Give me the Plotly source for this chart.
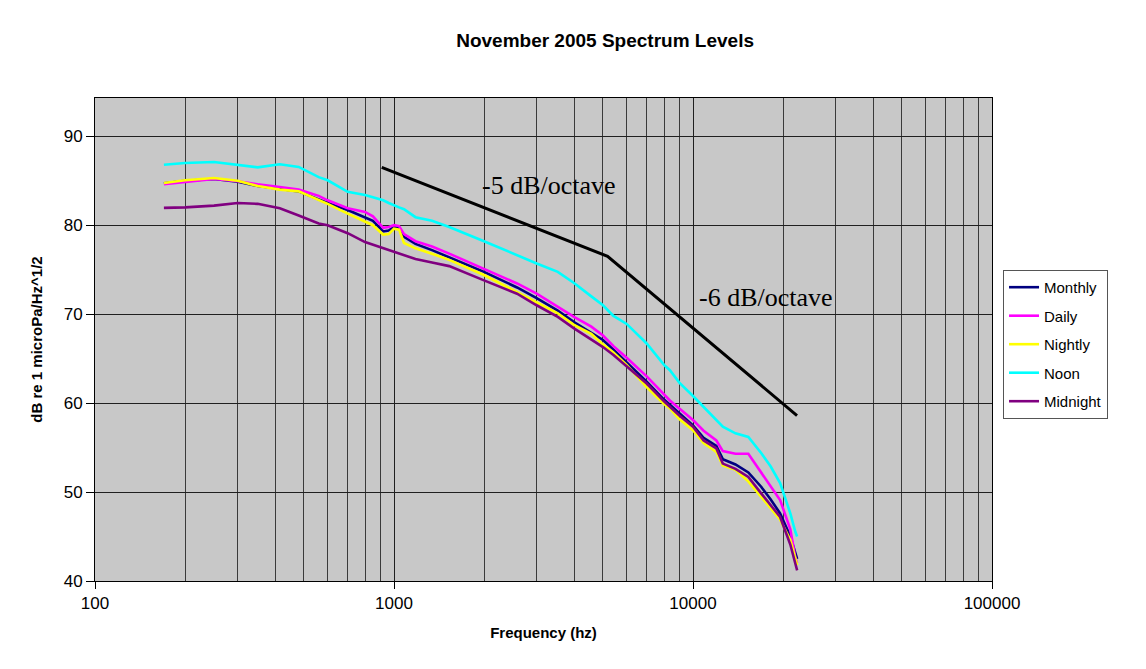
import math
import plotly.graph_objects as go

# ---------------- data ----------------
freq_hz = [170, 200, 250, 300, 350, 415, 480, 560, 600, 700, 800, 850, 920, 960,
           1000, 1040, 1080, 1180, 1340, 1530, 2000, 2580, 3000, 3530, 4000, 4570,
           5000, 5420, 6000, 7000, 8000, 8370, 9000, 10000, 10850, 11970, 12580,
           13870, 15310, 16900, 18170, 19560, 21160, 22000, 22300]

monthly = [84.7, 85.0, 85.2, 84.9, 84.4, 84.1, 83.8, 82.9, 82.5, 81.7, 80.9, 80.5, 79.3, 79.4,
           79.8, 79.7, 78.7, 77.9, 77.2, 76.4, 74.75, 73.0, 71.8, 70.4, 69.1, 67.9,
           67.1, 66.0, 64.6, 62.4, 60.4, 59.8, 58.8, 57.5, 56.1, 55.2, 53.7,
           53.1, 52.2, 50.6, 49.2, 47.6, 45.0, 43.1, 42.5]

daily = [84.6, 84.85, 85.2, 84.95, 84.6, 84.3, 84.0, 83.3, 82.8, 81.9, 81.5, 81.0, 79.7, 79.8,
         80.0, 79.9, 79.0, 78.2, 77.6, 76.8, 75.1, 73.45, 72.3, 70.8, 69.7, 68.6,
         67.6, 66.4, 65.1, 63.0, 61.0, 60.3, 59.4, 58.1, 56.9, 55.8, 54.6,
         54.3, 54.3, 52.2, 50.7, 49.1, 45.8, 42.6, 42.0]

nightly = [84.75, 85.05, 85.3, 85.0, 84.4, 84.0, 83.8, 82.8, 82.4, 81.3, 80.4, 80.0, 78.95, 79.0,
           79.6, 79.5, 78.0, 77.4, 76.8, 76.1, 74.4, 72.5, 71.4, 70.1, 68.8, 67.8,
           66.6, 65.7, 64.3, 61.8, 59.9, 59.4, 58.2, 56.95, 55.5, 54.5, 53.0,
           52.5, 51.2, 49.5, 48.2, 46.9, 44.6, 42.4, 41.8]

noon = [86.8, 87.0, 87.1, 86.8, 86.5, 86.85, 86.55, 85.4, 85.05, 83.75, 83.4, 83.15, 82.8, 82.5,
        82.2, 82.0, 81.8, 80.9, 80.5, 79.8, 78.2, 76.6, 75.7, 74.75, 73.5, 72.0,
        71.0, 69.8, 68.9, 66.7, 64.3, 63.7, 62.3, 60.8, 59.6, 58.1, 57.35,
        56.6, 56.2, 54.4, 52.9, 51.0, 47.6, 45.5, 45.0]

midnight = [81.95, 82.0, 82.2, 82.5, 82.4, 81.9, 81.1, 80.2, 80.0, 79.1, 78.1, 77.8, 77.4, 77.2,
            77.0, 76.8, 76.6, 76.2, 75.8, 75.4, 73.8, 72.3, 71.0, 69.7, 68.4, 67.1,
            66.3, 65.4, 64.1, 62.2, 60.2, 59.6, 58.6, 57.35, 55.8, 54.9, 53.2,
            52.6, 51.7, 49.85, 48.5, 47.2, 44.1, 41.8, 41.2]

series_names = ["Monthly", "Daily", "Nightly", "Noon", "Midnight"]
series_values = [monthly, daily, nightly, noon, midnight]
series_colors = ["#000080", "#FF00FF", "#FFFF00", "#00FFFF", "#800080"]

slope_freq = [910, 5180, 22280]
slope_db = [86.5, 76.5, 58.6]

slope_labels = ["-5 dB/octave", "-6 dB/octave"]
slope_label_freq = [3300, 17500]
slope_label_db = [84.5, 71.9]

x_tick_vals = [100, 1000, 10000, 100000]
x_tick_text = ["100", "1000", "10000", "100000"]
x_minor_vals = [m * 10 ** e for e in (2, 3, 4) for m in range(2, 10)]
y_tick_vals = [40, 50, 60, 70, 80, 90]

# ---------------- figure ----------------
fig = go.Figure()
for name, vals, col in zip(series_names, series_values, series_colors):
    fig.add_trace(go.Scatter(x=freq_hz, y=vals, mode="lines", name=name,
                             legendgroup=name,
                             line=dict(color=col, width=2.6)))

fig.add_trace(go.Scatter(x=slope_freq, y=slope_db, mode="lines", showlegend=False,
                         line=dict(color="black", width=3)))

# annotations on a log axis take log10 positions
for txt, fx, fy in zip(slope_labels, slope_label_freq, slope_label_db):
    fig.add_annotation(x=math.log10(fx), y=fy, xref="x", yref="y", text=txt, showarrow=False,
                       font=dict(family="Liberation Serif", size=26, color="black"))

font_sans = "Liberation Sans"
fig.update_layout(
    width=1146, height=669,
    margin=dict(l=95, r=154, t=98, b=88),
    paper_bgcolor="white",
    plot_bgcolor="#C8C8C8",
    font=dict(family=font_sans, color="black"),
    title=dict(text="<b>November 2005 Spectrum Levels</b>", x=0.528, xanchor="center",
               y=1 - 40 / 669, yanchor="middle", font=dict(size=19, family=font_sans)),
    legend=dict(x=1.0123, y=0.644, xanchor="left", yanchor="top",
                bgcolor="white", bordercolor="#555555", borderwidth=1,
                font=dict(size=15, family=font_sans), tracegroupgap=6,
                traceorder="grouped"),
    showlegend=True,
)

fig.update_xaxes(
    type="log", range=[2, 5],
    tickmode="array", tickvals=x_tick_vals, ticktext=x_tick_text,
    ticks="outside", ticklen=7, tickcolor="black",
    tickfont=dict(size=17),
    showgrid=True, gridcolor="#202020", gridwidth=1.3,
    minor=dict(tickmode="array", tickvals=x_minor_vals, showgrid=True,
               gridcolor="#3a3a3a", gridwidth=1, ticks=""),
    showline=True, linecolor="black", linewidth=1, mirror=True,
    zeroline=False,
    title=dict(text="<b>Frequency (hz)</b>", font=dict(size=15), standoff=15),
)

fig.update_yaxes(
    range=[40, 94.3],
    tickmode="array", tickvals=y_tick_vals,
    ticks="outside", ticklen=8, tickcolor="black",
    tickfont=dict(size=17),
    showgrid=True, gridcolor="#202020", gridwidth=1,
    showline=True, linecolor="black", linewidth=1, mirror=True,
    zeroline=False,
    title=dict(text="<b>dB re 1 microPa/Hz^1/2</b>", font=dict(size=15), standoff=17),
)

fig.write_html("out.html")
